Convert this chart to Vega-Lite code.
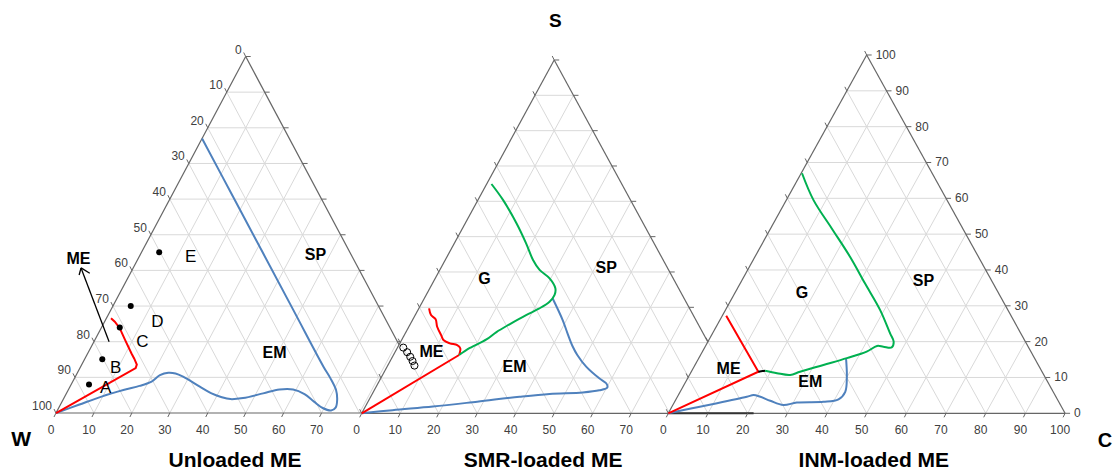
{
  "$schema": "https://vega.github.io/schema/vega-lite/v6.json",
  "width": 1115,
  "height": 475,
  "autosize": {"type": "none"},
  "padding": 0,
  "background": "white",
  "config": {"view": {"stroke": null}},
  "datasets": {
    "grid": [
      {"x":5,"y":10,"x2":95,"y2":10},{"x":10,"y":20,"x2":90,"y2":20},{"x":15,"y":30,"x2":85,"y2":30},
      {"x":20,"y":40,"x2":80,"y2":40},{"x":25,"y":50,"x2":75,"y2":50},{"x":30,"y":60,"x2":70,"y2":60},
      {"x":35,"y":70,"x2":65,"y2":70},{"x":40,"y":80,"x2":60,"y2":80},{"x":45,"y":90,"x2":55,"y2":90},
      {"x":10,"y":0,"x2":55,"y2":90},{"x":20,"y":0,"x2":60,"y2":80},{"x":30,"y":0,"x2":65,"y2":70},
      {"x":40,"y":0,"x2":70,"y2":60},{"x":50,"y":0,"x2":75,"y2":50},{"x":60,"y":0,"x2":80,"y2":40},
      {"x":70,"y":0,"x2":85,"y2":30},{"x":80,"y":0,"x2":90,"y2":20},{"x":90,"y":0,"x2":95,"y2":10},
      {"x":90,"y":0,"x2":45,"y2":90},{"x":80,"y":0,"x2":40,"y2":80},{"x":70,"y":0,"x2":35,"y2":70},
      {"x":60,"y":0,"x2":30,"y2":60},{"x":50,"y":0,"x2":25,"y2":50},{"x":40,"y":0,"x2":20,"y2":40},
      {"x":30,"y":0,"x2":15,"y2":30},{"x":20,"y":0,"x2":10,"y2":20},{"x":10,"y":0,"x2":5,"y2":10}
    ],
    "edge": [
      {"x":0,"y":0,"x2":100,"y2":0},{"x":0,"y":0,"x2":50,"y2":100},{"x":100,"y":0,"x2":50,"y2":100}
    ],
    "base": [
      {"x":0,"y":0},{"x":10,"y":0},{"x":20,"y":0},{"x":30,"y":0},{"x":40,"y":0},{"x":50,"y":0},
      {"x":60,"y":0},{"x":70,"y":0},{"x":80,"y":0},{"x":90,"y":0},{"x":100,"y":0}
    ],
    "ll": [
      {"x":50,"y":100,"t":"0"},{"x":45,"y":90,"t":"10"},{"x":40,"y":80,"t":"20"},{"x":35,"y":70,"t":"30"},
      {"x":30,"y":60,"t":"40"},{"x":25,"y":50,"t":"50"},{"x":20,"y":40,"t":"60"},{"x":15,"y":30,"t":"70"},
      {"x":10,"y":20,"t":"80"},{"x":5,"y":10,"t":"90"},{"x":0,"y":0,"t":"100"}
    ],
    "lr": [
      {"x":100,"y":0,"t":"0"},{"x":95,"y":10,"t":"10"},{"x":90,"y":20,"t":"20"},{"x":85,"y":30,"t":"30"},
      {"x":80,"y":40,"t":"40"},{"x":75,"y":50,"t":"50"},{"x":70,"y":60,"t":"60"},{"x":65,"y":70,"t":"70"},
      {"x":60,"y":80,"t":"80"},{"x":55,"y":90,"t":"90"},{"x":50,"y":100,"t":"100"}
    ],
    "tri": [{"x":0,"y":0},{"x":50,"y":100},{"x":100,"y":0}]
  },
  "resolve": {"scale": {"x": "independent", "y": "independent"}},
  "layer": [
    {
      "encoding": {
        "x": {"field": "x", "type": "quantitative", "scale": {"domain": [-14.76, 279.13], "nice": false, "zero": false}, "axis": null},
        "y": {"field": "y", "type": "quantitative", "scale": {"domain": [-17.39, 115.85], "nice": false, "zero": false}, "axis": null}
      },
      "layer": [
        {"data": {"name": "grid"}, "mark": {"type": "rule", "color": "#d9d9d9", "strokeWidth": 1}, "encoding": {"x2": {"field": "x2"}, "y2": {"field": "y2"}}},
        {"data": {"name": "edge"}, "mark": {"type": "rule", "color": "#666666", "strokeWidth": 1.2}, "encoding": {"x2": {"field": "x2"}, "y2": {"field": "y2"}}},
        {"data": {"name": "base"}, "transform": [{"filter": "datum.x <= 70"}], "mark": {"type": "point", "shape": "M0,0L-0.5,1", "size": 64, "filled": false, "stroke": "#666666", "strokeWidth": 1, "opacity": 1}},
        {"data": {"name": "ll"}, "mark": {"type": "point", "shape": "M0,0L-0.5,-1", "size": 64, "filled": false, "stroke": "#666666", "strokeWidth": 1, "opacity": 1}},
        {"data": {"name": "lr"}, "mark": {"type": "point", "shape": "M0,0L1,0", "size": 100, "filled": false, "stroke": "#666666", "strokeWidth": 1, "opacity": 1}},
        {"data": {"name": "base"}, "transform": [{"filter": "datum.x <= 70"}], "mark": {"type": "text", "font": "Liberation Sans", "fontSize": 12, "color": "#404040", "dx": -5, "dy": 17, "baseline": "middle"}, "encoding": {"text": {"field": "x", "type": "quantitative", "format": "d"}}},
        {"data": {"name": "ll"}, "mark": {"type": "text", "font": "Liberation Sans", "fontSize": 12, "color": "#404040", "dx": -4, "dy": -7, "align": "right", "baseline": "middle"}, "encoding": {"text": {"field": "t"}}},
        {"data": {"values": [
          {"o":1,"x":0,"y":0},{"o":2,"x":6,"y":2.3},{"o":3,"x":12,"y":4.6},{"o":4,"x":18,"y":6.5},{"o":5,"x":22,"y":7.6},
          {"o":6,"x":25.2,"y":8.8},{"o":7,"x":27.4,"y":10.6},{"o":8,"x":29.6,"y":11.3},{"o":9,"x":31.5,"y":11.1},{"o":10,"x":33.5,"y":10.2},
          {"o":11,"x":37.9,"y":7.4},{"o":12,"x":41,"y":5.5},{"o":13,"x":43.5,"y":4.5},{"o":14,"x":46,"y":3.9},{"o":15,"x":49.3,"y":4.2},
          {"o":16,"x":54.6,"y":5.5},{"o":17,"x":58.9,"y":6.6},{"o":18,"x":62.5,"y":6.6},{"o":19,"x":65.5,"y":5.3},{"o":20,"x":68,"y":3.2},
          {"o":21,"x":70.3,"y":1.4},{"o":22,"x":72.5,"y":0.7},{"o":23,"x":73.7,"y":1.5},{"o":24,"x":74.1,"y":3.5},{"o":25,"x":73.8,"y":6.5},
          {"o":26,"x":72.2,"y":10},{"o":27,"x":70.5,"y":13},{"o":28,"x":62.5,"y":29},{"o":29,"x":46.5,"y":61},{"o":30,"x":38.5,"y":77}
        ]}, "mark": {"type": "line", "color": "#4f81bd", "strokeWidth": 2, "interpolate": "catmull-rom"}, "encoding": {"order": {"field": "o", "type": "quantitative"}}},
        {"data": {"values": [
          {"o":1,"x":0,"y":0},{"o":2,"x":21,"y":12.6},{"o":3,"x":21.3,"y":13.6},{"o":4,"x":20.6,"y":15.3},{"o":5,"x":19.9,"y":16.7},
          {"o":6,"x":18.2,"y":20.5},{"o":7,"x":16.8,"y":23.8},{"o":8,"x":15.5,"y":25.6},{"o":9,"x":14.5,"y":26.6}
        ]}, "mark": {"type": "line", "color": "#ff0000", "strokeWidth": 2}, "encoding": {"order": {"field": "o", "type": "quantitative"}}},
        {"data": {"values": [
          {"x":14.0,"y":20.0,"x2":6.6,"y2":40.7},{"x":6.6,"y":40.7,"x2":6.1,"y2":38.7},{"x":6.6,"y":40.7,"x2":8.9,"y2":39.2}
        ]}, "mark": {"type": "rule", "color": "#000000", "strokeWidth": 1.3}, "encoding": {"x2": {"field": "x2"}, "y2": {"field": "y2"}}},
        {"data": {"values": [
          {"x":8.7,"y":8.0},{"x":12.2,"y":15.1},{"x":16.8,"y":24.0},{"x":19.7,"y":30.0},{"x":27.2,"y":45.1}
        ]}, "mark": {"type": "point", "shape": "circle", "filled": true, "color": "#000000", "size": 36, "opacity": 1}},
        {"data": {"values": [
          {"x":13.1,"y":6.9,"t":"A"},{"x":15.7,"y":12.5,"t":"B"},{"x":22.8,"y":20.0,"t":"C"},{"x":26.7,"y":25.6,"t":"D"},{"x":35.5,"y":43.8,"t":"E"}
        ]}, "mark": {"type": "text", "font": "Liberation Sans", "fontSize": 17, "color": "#000000", "baseline": "middle"}, "encoding": {"text": {"field": "t"}}},
        {"data": {"values": [
          {"x":5.9,"y":43.2,"t":"ME"},{"x":68.4,"y":44.3,"t":"SP"},{"x":57.6,"y":16.7,"t":"EM"}
        ]}, "mark": {"type": "text", "font": "Liberation Sans", "fontSize": 16, "fontWeight": "bold", "color": "#000000", "baseline": "middle"}, "encoding": {"text": {"field": "t"}}},
        {"data": {"values": [
          {"x":47.2,"y":-13.5,"t":"Unloaded ME"}
        ]}, "mark": {"type": "text", "font": "Liberation Sans", "fontSize": 21, "fontWeight": "bold", "color": "#000000", "baseline": "middle"}, "encoding": {"text": {"field": "t"}}},
        {"data": {"values": [
          {"x":-9.2,"y":-7.6,"t":"W"}
        ]}, "mark": {"type": "text", "font": "Liberation Sans", "fontSize": 21, "fontWeight": "bold", "color": "#000000", "baseline": "middle"}, "encoding": {"text": {"field": "t"}}}
      ]
    },
    {
      "encoding": {
        "x": {"field": "x", "type": "quantitative", "scale": {"domain": [-93.95, 195.66], "nice": false, "zero": false}, "axis": null},
        "y": {"field": "y", "type": "quantitative", "scale": {"domain": [-17.46, 116.98], "nice": false, "zero": false}, "axis": null}
      },
      "layer": [
        {"data": {"name": "tri"}, "mark": {"type": "area", "color": "white", "opacity": 1}, "encoding": {"y2": {"datum": 0}}},
        {"data": {"name": "grid"}, "mark": {"type": "rule", "color": "#d9d9d9", "strokeWidth": 1}, "encoding": {"x2": {"field": "x2"}, "y2": {"field": "y2"}}},
        {"data": {"name": "edge"}, "mark": {"type": "rule", "color": "#666666", "strokeWidth": 1.2}, "encoding": {"x2": {"field": "x2"}, "y2": {"field": "y2"}}},
        {"data": {"name": "base"}, "transform": [{"filter": "datum.x <= 70"}], "mark": {"type": "point", "shape": "M0,0L-0.5,1", "size": 64, "filled": false, "stroke": "#666666", "strokeWidth": 1, "opacity": 1}},
        {"data": {"name": "ll"}, "mark": {"type": "point", "shape": "M0,0L-0.5,-1", "size": 64, "filled": false, "stroke": "#666666", "strokeWidth": 1, "opacity": 1}},
        {"data": {"name": "lr"}, "mark": {"type": "point", "shape": "M0,0L1,0", "size": 100, "filled": false, "stroke": "#666666", "strokeWidth": 1, "opacity": 1}},
        {"data": {"name": "base"}, "transform": [{"filter": "datum.x <= 70"}], "mark": {"type": "text", "font": "Liberation Sans", "fontSize": 12, "color": "#404040", "dx": -5, "dy": 17, "baseline": "middle"}, "encoding": {"text": {"field": "x", "type": "quantitative", "format": "d"}}},
        {"data": {"values": [
          {"o":1,"x":0,"y":0},{"o":2,"x":8,"y":0.9},{"o":3,"x":18.5,"y":1.9},{"o":4,"x":30,"y":3.3},{"o":5,"x":41,"y":4.7},
          {"o":6,"x":48.8,"y":5.5},{"o":7,"x":57.4,"y":5.9},{"o":8,"x":61.7,"y":6.5},{"o":9,"x":63.8,"y":7.3},{"o":10,"x":63.5,"y":8.5},
          {"o":11,"x":61.7,"y":9.9},{"o":12,"x":58.3,"y":13.2},{"o":13,"x":56,"y":16.5},{"o":14,"x":54.8,"y":18.9},{"o":15,"x":53.5,"y":22.5},
          {"o":16,"x":52.2,"y":26.4},{"o":17,"x":49.6,"y":32.5}
        ]}, "mark": {"type": "line", "color": "#4f81bd", "strokeWidth": 2, "interpolate": "catmull-rom"}, "encoding": {"order": {"field": "o", "type": "quantitative"}}},
        {"data": {"values": [
          {"o":1,"x":0,"y":0},{"o":2,"x":25.3,"y":16.5}
        ]}, "mark": {"type": "line", "color": "#ff0000", "strokeWidth": 2}, "encoding": {"order": {"field": "o", "type": "quantitative"}}},
        {"data": {"values": [
          {"o":1,"x":25.3,"y":16.5},{"o":2,"x":25.6,"y":18.4},{"o":3,"x":24.8,"y":19.3},{"o":4,"x":22.9,"y":19.8},{"o":5,"x":21.3,"y":20.7},
          {"o":6,"x":20.6,"y":22.2},{"o":7,"x":19.6,"y":24.5},{"o":8,"x":19.2,"y":26.6},{"o":9,"x":18.0,"y":27.8},{"o":10,"x":17.5,"y":29.7}
        ]}, "mark": {"type": "line", "color": "#ff0000", "strokeWidth": 2, "interpolate": "catmull-rom"}, "encoding": {"order": {"field": "o", "type": "quantitative"}}},
        {"data": {"values": [
          {"o":1,"x":33.7,"y":64.9},{"o":2,"x":36.7,"y":60.4},{"o":3,"x":40.2,"y":53.8},{"o":4,"x":42.7,"y":48.1},{"o":5,"x":44.5,"y":43.4},
          {"o":6,"x":46.2,"y":40.6},{"o":7,"x":48.8,"y":38.2},{"o":8,"x":50.3,"y":35.4},{"o":9,"x":50.1,"y":33.5},{"o":10,"x":48.8,"y":31.6},
          {"o":11,"x":46,"y":29.6},{"o":12,"x":42.7,"y":27.8},{"o":13,"x":38.4,"y":25.2},{"o":14,"x":35,"y":23.0},{"o":15,"x":32.4,"y":20.9},
          {"o":16,"x":28.1,"y":18.5},{"o":17,"x":25.3,"y":16.5}
        ]}, "mark": {"type": "line", "color": "#00b050", "strokeWidth": 2, "interpolate": "catmull-rom"}, "encoding": {"order": {"field": "o", "type": "quantitative"}}},
        {"data": {"values": [
          {"x":10.8,"y":18.6},{"x":11.8,"y":17.3},{"x":12.6,"y":16.0},{"x":13.2,"y":14.8},{"x":13.7,"y":13.5}
        ]}, "mark": {"type": "point", "shape": "circle", "filled": false, "stroke": "#000000", "strokeWidth": 1, "size": 50, "opacity": 1}},
        {"data": {"values": [
          {"x":31.9,"y":38.0,"t":"G"},{"x":63.5,"y":41.0,"t":"SP"},{"x":18.1,"y":17.4,"t":"ME"},{"x":39.7,"y":13.0,"t":"EM"}
        ]}, "mark": {"type": "text", "font": "Liberation Sans", "fontSize": 16, "fontWeight": "bold", "color": "#000000", "baseline": "middle"}, "encoding": {"text": {"field": "t"}}},
        {"data": {"values": [
          {"x":47.1,"y":-13.5,"t":"SMR-loaded ME"}
        ]}, "mark": {"type": "text", "font": "Liberation Sans", "fontSize": 21, "fontWeight": "bold", "color": "#000000", "baseline": "middle"}, "encoding": {"text": {"field": "t"}}},
        {"data": {"values": [
          {"x":50.3,"y":111.0,"t":"S"}
        ]}, "mark": {"type": "text", "font": "Liberation Sans", "fontSize": 19, "fontWeight": "bold", "color": "#000000", "baseline": "middle"}, "encoding": {"text": {"field": "t"}}}
      ]
    },
    {
      "encoding": {
        "x": {"field": "x", "type": "quantitative", "scale": {"domain": [-168.42, 112.58], "nice": false, "zero": false}, "axis": null},
        "y": {"field": "y", "type": "quantitative", "scale": {"domain": [-17.22, 115.35], "nice": false, "zero": false}, "axis": null}
      },
      "layer": [
        {"data": {"name": "tri"}, "mark": {"type": "area", "color": "white", "opacity": 1}, "encoding": {"y2": {"datum": 0}}},
        {"data": {"name": "grid"}, "mark": {"type": "rule", "color": "#d9d9d9", "strokeWidth": 1}, "encoding": {"x2": {"field": "x2"}, "y2": {"field": "y2"}}},
        {"data": {"name": "edge"}, "mark": {"type": "rule", "color": "#666666", "strokeWidth": 1.2}, "encoding": {"x2": {"field": "x2"}, "y2": {"field": "y2"}}},
        {"data": {"values": [{"x":0,"y":0,"x2":21.5,"y2":0}]}, "mark": {"type": "rule", "color": "#333333", "strokeWidth": 2}, "encoding": {"x2": {"field": "x2"}, "y2": {"field": "y2"}}},
        {"data": {"name": "base"}, "mark": {"type": "point", "shape": "M0,0L-0.5,1", "size": 64, "filled": false, "stroke": "#666666", "strokeWidth": 1, "opacity": 1}},
        {"data": {"name": "ll"}, "mark": {"type": "point", "shape": "M0,0L-0.5,-1", "size": 64, "filled": false, "stroke": "#666666", "strokeWidth": 1, "opacity": 1}},
        {"data": {"name": "lr"}, "mark": {"type": "point", "shape": "M0,0L1,0", "size": 100, "filled": false, "stroke": "#666666", "strokeWidth": 1, "opacity": 1}},
        {"data": {"name": "base"}, "mark": {"type": "text", "font": "Liberation Sans", "fontSize": 12, "color": "#404040", "dx": -5, "dy": 17, "baseline": "middle"}, "encoding": {"text": {"field": "x", "type": "quantitative", "format": "d"}}},
        {"data": {"name": "lr"}, "mark": {"type": "text", "font": "Liberation Sans", "fontSize": 12, "color": "#404040", "dx": 9, "align": "left", "baseline": "middle"}, "encoding": {"text": {"field": "t"}}},
        {"data": {"values": [
          {"o":1,"x":0,"y":0},{"o":2,"x":6,"y":1.4},{"o":3,"x":12.3,"y":2.8},{"o":4,"x":19.8,"y":4.6},{"o":5,"x":21.5,"y":5.1},
          {"o":6,"x":23.2,"y":4.6},{"o":7,"x":25.7,"y":3.5},{"o":8,"x":29.0,"y":2.3},{"o":9,"x":32.4,"y":3.0},{"o":10,"x":39.1,"y":3.2},
          {"o":11,"x":42.9,"y":3.9},{"o":12,"x":44.6,"y":6.0},{"o":13,"x":45.0,"y":10.2},{"o":14,"x":44.8,"y":15.3}
        ]}, "mark": {"type": "line", "color": "#4f81bd", "strokeWidth": 2, "interpolate": "catmull-rom"}, "encoding": {"order": {"field": "o", "type": "quantitative"}}},
        {"data": {"values": [
          {"o":1,"x":0,"y":0},{"o":2,"x":22.7,"y":11.6},{"o":3,"x":14.6,"y":27.2}
        ]}, "mark": {"type": "line", "color": "#ff0000", "strokeWidth": 2}, "encoding": {"order": {"field": "o", "type": "quantitative"}}},
        {"data": {"values": [{"x":22.7,"y":11.6,"x2":24.4,"y2":11.9}]}, "mark": {"type": "rule", "color": "#000000", "strokeWidth": 2}, "encoding": {"x2": {"field": "x2"}, "y2": {"field": "y2"}}},
        {"data": {"values": [
          {"o":1,"x":24.4,"y":11.9},{"o":2,"x":27.4,"y":11.2},{"o":3,"x":30.7,"y":10.7},{"o":4,"x":33.2,"y":11.6},{"o":5,"x":39.1,"y":13.5},
          {"o":6,"x":45.0,"y":15.4},{"o":7,"x":50.0,"y":17.2},{"o":8,"x":52.6,"y":18.8},{"o":9,"x":54.2,"y":18.6},{"o":10,"x":56.3,"y":18.4},
          {"o":11,"x":56.8,"y":20.0},{"o":12,"x":55.9,"y":22.3},{"o":13,"x":53.4,"y":28.8},{"o":14,"x":49.6,"y":36.2},{"o":15,"x":45.8,"y":43.7},
          {"o":16,"x":41.2,"y":51.6},{"o":17,"x":36.6,"y":59.5},{"o":18,"x":33.7,"y":67.0}
        ]}, "mark": {"type": "line", "color": "#00b050", "strokeWidth": 2, "interpolate": "catmull-rom"}, "encoding": {"order": {"field": "o", "type": "quantitative"}}},
        {"data": {"values": [
          {"x":33.7,"y":33.7,"t":"G"},{"x":64.3,"y":37.0,"t":"SP"},{"x":15.2,"y":12.3,"t":"ME"},{"x":35.8,"y":8.8,"t":"EM"}
        ]}, "mark": {"type": "text", "font": "Liberation Sans", "fontSize": 16, "fontWeight": "bold", "color": "#000000", "baseline": "middle"}, "encoding": {"text": {"field": "t"}}},
        {"data": {"values": [
          {"x":51.8,"y":-13.3,"t":"INM-loaded ME"}
        ]}, "mark": {"type": "text", "font": "Liberation Sans", "fontSize": 21, "fontWeight": "bold", "color": "#000000", "baseline": "middle"}, "encoding": {"text": {"field": "t"}}},
        {"data": {"values": [
          {"x":111.9,"y":-7.7,"t":"C"}
        ]}, "mark": {"type": "text", "font": "Liberation Sans", "fontSize": 20, "fontWeight": "bold", "color": "#000000", "align": "right", "baseline": "middle"}, "encoding": {"text": {"field": "t"}}}
      ]
    }
  ]
}
